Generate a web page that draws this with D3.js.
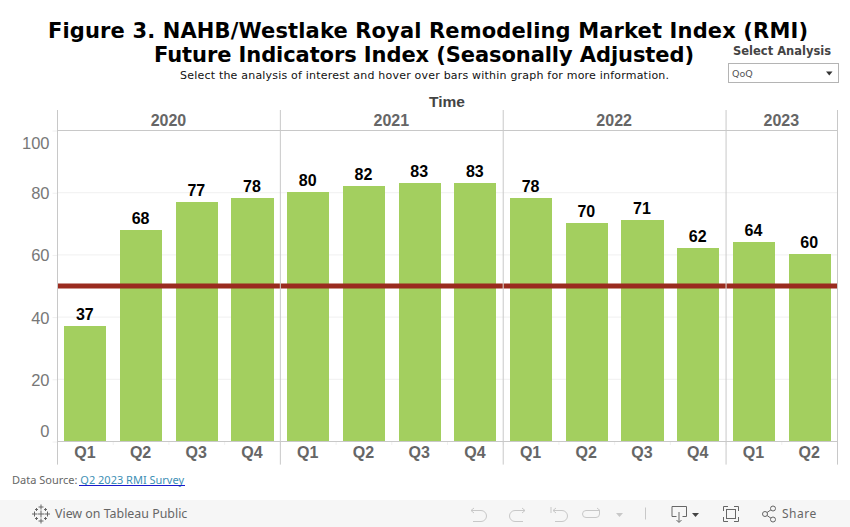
<!DOCTYPE html>
<html>
<head>
<meta charset="utf-8">
<script src="https://cdn.jsdelivr.net/npm/d3@7"></script>
<style>
  html, body { margin: 0; padding: 0; background: #fff; overflow: hidden; }
  text { font-family: "Liberation Sans", Arial, sans-serif; }
  .dv { font-family: "DejaVu Sans", Verdana, sans-serif; }
  .tb { font-family: "Noto Sans", sans-serif; }
</style>
</head>
<body>
<svg id="chart" width="850" height="527"></svg>
<script>
const years = ["2020", "2021", "2022", "2023"];
const quarters = [
  "2020 Q1", "2020 Q2", "2020 Q3", "2020 Q4",
  "2021 Q1", "2021 Q2", "2021 Q3", "2021 Q4",
  "2022 Q1", "2022 Q2", "2022 Q3", "2022 Q4",
  "2023 Q1", "2023 Q2",
];
const values = [37, 68, 77, 78, 80, 82, 83, 83, 78, 70, 71, 62, 64, 60];
const yTicks = [0, 20, 40, 60, 80, 100];
const referenceValue = 50;

const margin = { l: 57.5, r: 12.5, t: 130, b: 86 };
const width = 850;
const height = 527;

const svg = d3.select("#chart");

const x = d3
  .scaleBand()
  .domain(quarters)
  .range([margin.l, width - margin.r])
  .paddingInner(0.246)
  .paddingOuter(0.123);

const y = d3
  .scaleLinear()
  .domain([0, 100])
  .range([height - margin.b, margin.t]);

const gridColor = "#f0f0f0";
const lineColor = "#c8c8c8";
const labelColor = "#666666";

// gridlines first, bars go over them
svg
  .append("g")
  .selectAll("line")
  .data(yTicks.filter((t) => t > 0))
  .join("line")
  .attr("x1", margin.l)
  .attr("x2", width - margin.r)
  .attr("y1", (d) => y(d) + 0.5)
  .attr("y2", (d) => y(d) + 0.5)
  .attr("stroke", gridColor);

svg
  .append("g")
  .selectAll("rect")
  .data(values)
  .join("rect")
  .attr("x", (d, i) => x(quarters[i]))
  .attr("y", (d) => y(d))
  .attr("width", x.bandwidth())
  .attr("height", (d) => y(0) - y(d))
  .attr("fill", "#a3cf5f")
  .attr("shape-rendering", "crispEdges");

svg
  .append("g")
  .selectAll("text")
  .data(values)
  .join("text")
  .attr("x", (d, i) => x(quarters[i]) + x.bandwidth() / 2 - 0.5)
  .attr("y", (d) => y(d) - 6)
  .attr("text-anchor", "middle")
  .style("font-size", "16px")
  .style("font-weight", "bold")
  .attr("fill", "#000")
  .text((d) => d);

// y axis, tableau pulls the two end labels inside the plot
const yAxis = d3.axisLeft(y).tickValues(yTicks).tickSize(5).tickPadding(3);
const yG = svg
  .append("g")
  .attr("transform", `translate(${margin.l},0.5)`)
  .call(yAxis);
yG.select(".domain").remove();
yG.selectAll("line").attr("stroke", gridColor);
yG.selectAll("text")
  .style("font-size", "16.5px")
  .attr("fill", "#777777")
  .attr("dy", (d) => (d === 100 ? "1.1em" : d === 0 ? "-0.32em" : "0.36em"));

// x axis
const xAxis = d3
  .axisBottom(x)
  .tickFormat((d) => d.split(" ")[1])
  .tickSize(0)
  .tickPadding(6);
const xG = svg
  .append("g")
  .attr("transform", `translate(-0.5,${y(0)})`)
  .call(xAxis);
xG.select(".domain").remove();
xG.selectAll("text")
  .style("font-size", "16px")
  .style("font-weight", "bold")
  .attr("fill", labelColor);

// little ticks between the quarters
svg
  .append("g")
  .selectAll("line")
  .data(quarters.slice(1))
  .join("line")
  .attr("x1", (d) => x(d) - (x.step() - x.bandwidth()) / 2)
  .attr("x2", (d) => x(d) - (x.step() - x.bandwidth()) / 2)
  .attr("y1", y(0))
  .attr("y2", y(0) + 4)
  .attr("stroke", gridColor);

// year panels
const yearStart = (yr) => quarters.findIndex((q) => q.startsWith(yr));
const yearEnd = (yr) => yearStart(yr) + quarters.filter((q) => q.startsWith(yr)).length;
const panelX = (i) => margin.l + i * x.step();

svg
  .append("g")
  .selectAll("line")
  .data([...years.map(yearStart), quarters.length])
  .join("line")
  .attr("x1", (d) => panelX(d))
  .attr("x2", (d) => panelX(d))
  .attr("y1", 110)
  .attr("y2", 464.6)
  .attr("stroke", lineColor);

svg
  .append("g")
  .selectAll("text")
  .data(years)
  .join("text")
  .attr("x", (d) => (panelX(yearStart(d)) + panelX(yearEnd(d))) / 2 - 0.5)
  .attr("y", 126)
  .attr("text-anchor", "middle")
  .style("font-size", "16px")
  .style("font-weight", "bold")
  .attr("fill", labelColor)
  .text((d) => d);

// top and bottom rules of the panels
[y(100), y(0)].forEach((yy) => {
  svg
    .append("line")
    .attr("x1", margin.l)
    .attr("x2", width - margin.r)
    .attr("y1", yy + 0.5)
    .attr("y2", yy + 0.5)
    .attr("stroke", lineColor);
});

// reference line, broken at each panel edge
svg
  .append("g")
  .selectAll("line")
  .data(years)
  .join("line")
  .attr("x1", (d) => panelX(yearStart(d)) + 0.5)
  .attr("x2", (d) => panelX(yearEnd(d)) - 0.5)
  .attr("y1", y(referenceValue) + 0.5)
  .attr("y2", y(referenceValue) + 0.5)
  .attr("stroke", "#9a2b1f")
  .attr("stroke-width", 5);

// titles
const title = svg.append("g").attr("text-anchor", "middle");
title
  .append("text")
  .attr("class", "dv")
  .attr("x", 428)
  .attr("y", 37.5)
  .attr("textLength", 760)
  .style("font-size", "21px")
  .style("font-weight", "bold")
  .attr("fill", "#000")
  .text("Figure 3. NAHB/Westlake Royal Remodeling Market Index (RMI)");
title
  .append("text")
  .attr("class", "dv")
  .attr("x", 424)
  .attr("y", 62)
  .attr("textLength", 540)
  .style("font-size", "21px")
  .style("font-weight", "bold")
  .attr("fill", "#000")
  .text("Future Indicators Index (Seasonally Adjusted)");
title
  .append("text")
  .attr("class", "dv")
  .attr("x", 424.5)
  .attr("y", 79)
  .attr("textLength", 489)
  .style("font-size", "11px")
  .attr("fill", "#111")
  .text("Select the analysis of interest and hover over bars within graph for more information.");

svg
  .append("text")
  .attr("x", 447)
  .attr("y", 107)
  .attr("text-anchor", "middle")
  .style("font-size", "15.5px")
  .style("font-weight", "bold")
  .attr("fill", "#444")
  .text("Time");

// filter control
svg
  .append("text")
  .attr("class", "dv")
  .attr("x", 733)
  .attr("y", 55)
  .style("font-size", "11.5px")
  .style("font-weight", "bold")
  .attr("fill", "#444")
  .text("Select Analysis");
svg
  .append("rect")
  .attr("x", 728.5)
  .attr("y", 63.5)
  .attr("width", 110)
  .attr("height", 19)
  .attr("fill", "#fff")
  .attr("stroke", "#b4b4b4");
svg
  .append("text")
  .attr("class", "dv")
  .attr("x", 732)
  .attr("y", 77)
  .style("font-size", "9.5px")
  .attr("fill", "#555")
  .text("QoQ");
svg.append("path").attr("d", "M826 71.5h6.5l-3.25 4z").attr("fill", "#333");

// data source
const src = svg
  .append("text")
  .attr("class", "tb")
  .attr("x", 12)
  .attr("y", 484)
  .style("font-size", "11px")
  .attr("fill", "#666");
src.append("tspan").text("Data Source: ");
src.append("tspan").attr("fill", "#3d8fb5").text("Q2 2023 RMI Survey");
svg
  .append("line")
  .attr("x1", 79)
  .attr("x2", 185)
  .attr("y1", 485.5)
  .attr("y2", 485.5)
  .attr("stroke", "#1a1acc");

// tableau toolbar
svg
  .append("rect")
  .attr("x", 0)
  .attr("y", 500)
  .attr("width", width)
  .attr("height", 27)
  .attr("fill", "#f6f6f6");

const tbColor = "#666";
const tbOff = "#c8c8c8";

// logo: crosses around a centre point
const logo = svg.append("g").attr("stroke", tbColor).attr("stroke-width", 1).attr("fill", "none");
[[41, 514, 3.5], [41, 507, 2.5], [41, 521, 2.5], [34.5, 514, 2.5], [47.5, 514, 2.5],
 [36.5, 509.5, 1.5], [45.5, 509.5, 1.5], [36.5, 518.5, 1.5], [45.5, 518.5, 1.5]].forEach(([cx, cy, r]) => {
  logo.append("path").attr("d", `M${cx - r} ${cy}H${cx + r}M${cx} ${cy - r}V${cy + r}`);
});
svg
  .append("text")
  .attr("class", "tb")
  .attr("x", 55)
  .attr("y", 518)
  .style("font-size", "12.4px")
  .attr("fill", tbColor)
  .text("View on Tableau Public");

const icons = svg.append("g").attr("fill", "none").attr("stroke-width", 1);
// undo, redo, revert, refresh
icons.append("path").attr("stroke", tbOff)
  .attr("d", "M471 510.5h10a5.5 5.5 0 0 1 0 11h-8M471 510.5l3-2.5M471 510.5l3 2.5");
icons.append("path").attr("stroke", tbOff)
  .attr("d", "M525 510.5h-10a5.5 5.5 0 0 0 0 11h8M525 510.5l-3-2.5M525 510.5l-3 2.5");
icons.append("path").attr("stroke", tbOff)
  .attr("d", "M551 507v6M553 510.5h9a5.5 5.5 0 0 1 0 11h-7M553 510.5l3-2.5M553 510.5l3 2.5");
icons.append("path").attr("stroke", tbOff)
  .attr("d", "M600 510.5h-14a3.5 3.5 0 0 0 0 7h10a3.5 3.5 0 0 0 3.5-3.5v-3.5M600 510.5l-3-2.5");
svg.append("path").attr("d", "M616 513h7l-3.5 4z").attr("fill", tbOff);
icons.append("path").attr("stroke", tbOff).attr("d", "M645.5 507.5v12");
// download
icons.append("path").attr("stroke", tbColor)
  .attr("d", "M672 506.5h14.5v10h-4M676.5 516.5h-4.5v-10M679 512v10M676.5 520l2.5 2.5 2.500-2.500");
svg.append("path").attr("d", "M692 513h7l-3.500 4z").attr("fill", "#444");
// fullscreen
icons.append("path").attr("stroke", tbColor)
  .attr("d", "M723.5 511v-4.500h4.500M734 506.500h4.500v4.500M738.500 517v4.500h-4.500M728 521.500h-4.500v-4.500");
icons.append("rect").attr("stroke", tbColor).attr("x", 726.5).attr("y", 509.5).attr("width", 9).attr("height", 9);
// share
icons.append("path").attr("stroke", tbColor).attr("d", "M765 514l7-5M765 514l7 5");
[[765, 514], [773, 508.500], [773, 519.500]].forEach(([cx, cy]) => {
  icons.append("circle").attr("stroke", tbColor).attr("cx", cx).attr("cy", cy).attr("r", 2.500).attr("fill", "#f6f6f6");
});
svg
  .append("text")
  .attr("class", "tb")
  .attr("x", 782)
  .attr("y", 518)
  .style("font-size", "12px")
  .style("letter-spacing", "0.5px")
  .attr("fill", tbColor)
  .text("Share");
</script>
</body>
</html>
